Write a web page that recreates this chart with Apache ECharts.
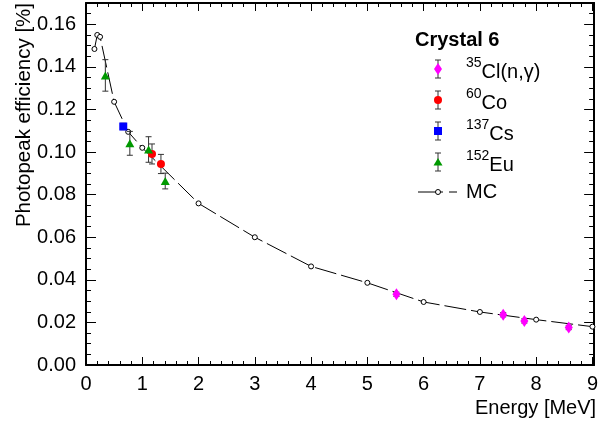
<!DOCTYPE html>
<html>
<head>
<meta charset="utf-8">
<script src="https://cdn.jsdelivr.net/npm/echarts@6/dist/echarts.min.js"></script>
<style>
  html, body { margin: 0; padding: 0; background: #fff; }
  #chart { width: 601px; height: 423px; }
</style>
</head>
<body>
<div id="chart"></div>
<script>
// MC simulation
var mcEnergy = [0.15, 0.2, 0.25, 0.5, 0.75, 1.0, 2, 3, 4, 5, 6, 7, 8, 9];
var mcEff    = [0.1484, 0.1550, 0.1541, 0.1236, 0.1095, 0.1020, 0.0759, 0.0600, 0.0463, 0.0386, 0.0296, 0.0249, 0.0213, 0.0180];

// 35Cl(n,gamma)
var clEnergy = [5.517, 7.414, 7.790, 8.579];
var clEff    = [0.0332, 0.0236, 0.0207, 0.0176];
var clErr    = [0.0010, 0.0010, 0.0010, 0.0010];

// 60Co
var coEnergy = [1.173, 1.332];
var coEff    = [0.0991, 0.0944];
var coErr    = [0.0047, 0.0045];

// 137Cs
var csEnergy = [0.662];
var csEff    = [0.1120];
var csErr    = [0.0015];

// 152Eu
var euEnergy = [0.344, 0.779, 1.112, 1.408];
var euEff    = [0.1360, 0.1041, 0.1012, 0.0864];
var euErr    = [0.0074, 0.0056, 0.0060, 0.0037];

var xTicks = [0, 1, 2, 3, 4, 5, 6, 7, 8, 9];

var FONT = 'Liberation Sans, Arial, Helvetica, sans-serif';
var ERR_COLOR = '#333';

var chart = echarts.init(document.getElementById('chart'), null, {renderer: 'canvas'});

function pairs(xs, ys, es){
  var out = [];
  for (var i = 0; i < xs.length; i++) {
    out.push(es ? [xs[i], ys[i], es[i]] : [xs[i], ys[i]]);
  }
  return out;
}

//误差棒
function errSeries(xs, ys, es){
  return {
    type: 'custom',
    silent: true,
    z: 3,
    data: pairs(xs, ys, es),
    encode: {x: 0, y: 1},
    renderItem: function(params, api){
      var x = api.value(0), y = api.value(1), e = api.value(2);
      var hi = api.coord([x, y + e]), lo = api.coord([x, y - e]);
      var cw = 3, st = {stroke: ERR_COLOR, lineWidth: 1};
      return {
        type: 'group',
        children: [
          {type: 'line', shape: {x1: hi[0], y1: hi[1], x2: lo[0], y2: lo[1]}, style: st},
          {type: 'line', shape: {x1: hi[0] - cw, y1: hi[1], x2: hi[0] + cw, y2: hi[1]}, style: st},
          {type: 'line', shape: {x1: lo[0] - cw, y1: lo[1], x2: lo[0] + cw, y2: lo[1]}, style: st}
        ]
      };
    }
  };
}

function pointSeries(name, xs, ys, symbol, size, color){
  return {
    name: name,
    type: 'scatter',
    z: 5,
    symbol: symbol,
    symbolSize: size,
    itemStyle: {color: color, opacity: 1},
    data: pairs(xs, ys)
  };
}

//图例
var legendX = 438;
var rows = [
  {y: 69,  sup: '35',  main: 'Cl(n,γ)', shape: 'diamond', color: '#ff00ff'},
  {y: 100, sup: '60',  main: 'Co',      shape: 'circle',  color: '#ff0000'},
  {y: 131, sup: '137', main: 'Cs',      shape: 'rect',    color: '#0000ff'},
  {y: 162, sup: '152', main: 'Eu',      shape: 'triangle',color: '#009900'}
];

function legendMarker(r){
  var cx = legendX, cy = r.y;
  if (r.shape === 'diamond') return {type: 'polygon', shape: {points: [[cx, cy - 6], [cx + 4, cy], [cx, cy + 6], [cx - 4, cy]]}, style: {fill: r.color}};
  if (r.shape === 'circle') return {type: 'circle', shape: {cx: cx, cy: cy, r: 4}, style: {fill: r.color}};
  if (r.shape === 'rect') return {type: 'rect', shape: {x: cx - 4, y: cy - 4, width: 8, height: 8}, style: {fill: r.color}};
  return {type: 'polygon', shape: {points: [[cx, cy - 4], [cx + 4.5, cy + 3.5], [cx - 4.5, cy + 3.5]]}, style: {fill: r.color}};
}

var graphics = [
  {type: 'text', left: 415, top: 30, style: {text: 'Crystal 6', font: 'bold 20px ' + FONT, fill: '#000'}},
  {type: 'text', x: 24, y: 3, rotation: Math.PI / 2,
    style: {text: 'Photopeak efficiency [%]', font: '20.5px ' + FONT, fill: '#000', align: 'right', verticalAlign: 'middle'}}
];
rows.forEach(function(r){
  var st = {stroke: ERR_COLOR, lineWidth: 1};
  graphics.push({type: 'line', shape: {x1: legendX, y1: r.y - 9, x2: legendX, y2: r.y + 9}, style: st});
  graphics.push({type: 'line', shape: {x1: legendX - 3, y1: r.y - 9, x2: legendX + 3, y2: r.y - 9}, style: st});
  graphics.push({type: 'line', shape: {x1: legendX - 3, y1: r.y + 9, x2: legendX + 3, y2: r.y + 9}, style: st});
  graphics.push(legendMarker(r));
  graphics.push({
    type: 'text', x: 466, y: r.y,
    style: {
      text: '{s|' + r.sup + '}{m|' + r.main + '}',
      verticalAlign: 'middle',
      rich: {
        s: {fontSize: 14, fontFamily: FONT, fill: '#000', verticalAlign: 'top', lineHeight: 14},
        m: {fontSize: 20, fontFamily: FONT, fill: '#000', verticalAlign: 'bottom', lineHeight: 26}
      }
    }
  });
});
// MC 图例
graphics.push({type: 'line', shape: {x1: 418, y1: 192, x2: 443, y2: 192}, style: {stroke: '#000', lineWidth: 1}});
graphics.push({type: 'line', shape: {x1: 449, y1: 192, x2: 457, y2: 192}, style: {stroke: '#000', lineWidth: 1}});
graphics.push({type: 'circle', shape: {cx: legendX, cy: 192, r: 2.5}, style: {fill: '#fff', stroke: '#000', lineWidth: 1}});
graphics.push({type: 'text', x: 466, y: 192, style: {text: 'MC', font: '20px ' + FONT, fill: '#000', verticalAlign: 'middle'}});

var axisCommon = {
  axisLine: {show: true, onZero: false, lineStyle: {color: '#000', width: 2}},
  splitLine: {show: false}
};

var option = {
  backgroundColor: '#fff',
  animation: false,
  textStyle: {fontFamily: FONT},
  grid: {left: 86, right: 4, top: 3, bottom: 58, containLabel: false},
  xAxis: [
    Object.assign({
      type: 'value', min: 0, max: 9.03, interval: 1, position: 'bottom',
      name: 'Energy [MeV]', nameLocation: 'end', nameGap: 2,
      nameTextStyle: {fontSize: 20, color: '#000', align: 'right', verticalAlign: 'top', padding: [33, 0, 0, 0]},
      axisTick: {inside: true, length: 8, lineStyle: {color: '#000'}},
      minorTick: {show: true, splitNumber: 5, length: 4, lineStyle: {color: '#000'}},
      axisLabel: {fontSize: 20, color: '#000', margin: 9, formatter: function(v){ return xTicks.indexOf(v) >= 0 ? String(v) : ''; }}
    }, axisCommon),
    Object.assign({
      type: 'value', min: 0, max: 9.03, interval: 1, position: 'top',
      axisTick: {inside: true, length: 8, lineStyle: {color: '#000'}},
      minorTick: {show: true, splitNumber: 5, length: 4, lineStyle: {color: '#000'}},
      axisLabel: {show: false}
    }, axisCommon)
  ],
  yAxis: [
    Object.assign({
      type: 'value', min: 0, max: 0.17, interval: 0.02, position: 'left',
      axisTick: {inside: true, length: 10, lineStyle: {color: '#000'}},
      minorTick: {show: true, splitNumber: 4, length: 5, lineStyle: {color: '#000'}},
      axisLabel: {fontSize: 20, color: '#000', margin: 10, formatter: function(v){
        return Math.abs(v / 0.02 - Math.round(v / 0.02)) < 1e-6 ? v.toFixed(2) : '';
      }}
    }, axisCommon),
    Object.assign({
      type: 'value', min: 0, max: 0.17, interval: 0.02, position: 'right',
      axisTick: {inside: true, length: 10, lineStyle: {color: '#000'}},
      minorTick: {show: true, splitNumber: 4, length: 5, lineStyle: {color: '#000'}},
      axisLabel: {show: false}
    }, axisCommon)
  ],
  graphic: graphics,
  series: [
    {
      name: 'MC',
      type: 'line',
      z: 2,
      symbol: 'circle',
      symbolSize: 5,
      showAllSymbol: true,
      itemStyle: {color: '#fff', borderColor: '#000', borderWidth: 1},
      lineStyle: {color: '#000', width: 1, type: [22, 5]},
      data: pairs(mcEnergy, mcEff)
    },
    errSeries(clEnergy, clEff, clErr),
    errSeries(coEnergy, coEff, coErr),
    errSeries(csEnergy, csEff, csErr),
    errSeries(euEnergy, euEff, euErr),
    pointSeries('35Cl(n,γ)', clEnergy, clEff, 'diamond', [8, 12], '#ff00ff'),
    pointSeries('60Co', coEnergy, coEff, 'circle', 8, '#ff0000'),
    pointSeries('137Cs', csEnergy, csEff, 'rect', 8, '#0000ff'),
    pointSeries('152Eu', euEnergy, euEff, 'triangle', [9, 8], '#009900')
  ]
};

chart.setOption(option);
</script>
</body>
</html>
